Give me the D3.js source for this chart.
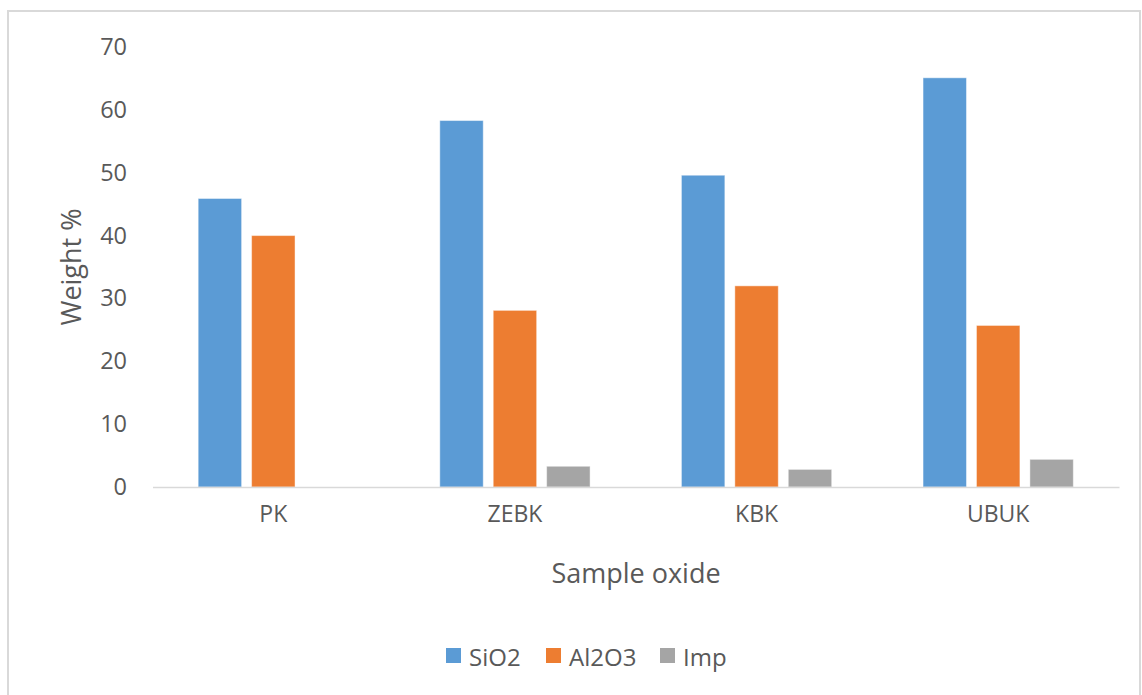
<!DOCTYPE html>
<html>
<head>
<meta charset="utf-8">
<script src="https://cdn.jsdelivr.net/npm/d3@7"></script>
<style>
  html, body { margin: 0; padding: 0; background: #ffffff; }
  svg { display: block; }
  text { font-family: "Open Sans", "Noto Sans", sans-serif; fill: #595959; }
</style>
</head>
<body>
<svg id="chart" width="1142" height="695"></svg>
<script>
// Sample data: oxide composition (weight %) per sample
const categories = ["PK", "ZEBK", "KBK", "UBUK"];
const seriesNames = ["SiO2", "Al2O3", "Imp"];
const sio2 = [45.9, 58.3, 49.6, 65.1];
const al2o3 = [40.0, 28.1, 32.0, 25.7];
const imp = [0, 3.3, 2.8, 4.4];
const yTicks = [0, 10, 20, 30, 40, 50, 60, 70];
const colors = ["#5b9bd5", "#ed7d31", "#a5a5a5"];

const seriesValues = [sio2, al2o3, imp];
const rows = categories.map((c, i) => ({
  category: c,
  values: seriesNames.map((s, j) => ({ series: s, value: seriesValues[j][i] }))
}));

const svg = d3.select("#chart");

// Chart area frame
svg.append("rect")
  .attr("x", 8).attr("y", 11)
  .attr("width", 1132).attr("height", 700)
  .attr("fill", "#ffffff")
  .attr("stroke", "#d9d9d9")
  .attr("stroke-width", 2);

const plot = { left: 152.5, right: 1119, top: 47, bottom: 487 };

const x0 = d3.scaleBand()
  .domain(categories)
  .range([plot.left, plot.right])
  .paddingInner(0).paddingOuter(0);

const x1 = d3.scaleBand()
  .domain(seriesNames)
  .range([0, x0.bandwidth()])
  .paddingInner(0.187)
  .paddingOuter(0.855);

const y = d3.scaleLinear().domain([0, 70]).range([plot.bottom, plot.top]);

const color = d3.scaleOrdinal().domain(seriesNames).range(colors);

// Y axis labels (no axis line, no gridlines)
const yAxis = d3.axisLeft(y).tickValues(yTicks).tickSize(0).tickPadding(0);
const yG = svg.append("g")
  .attr("transform", `translate(127,0)`)
  .call(yAxis);
yG.select(".domain").remove();
yG.selectAll("text")
  .attr("font-size", 23.5)
  .attr("fill", "#595959")
  .style("font-family", "'Open Sans', 'Noto Sans', sans-serif");

// Bars
const groups = svg.append("g")
  .selectAll("g")
  .data(rows)
  .join("g")
  .attr("transform", d => `translate(${x0(d.category)},0)`);

groups.selectAll("rect")
  .data(d => d.values.filter(v => v.value > 0))
  .join("rect")
  .attr("x", d => x1(d.series))
  .attr("y", d => y(d.value))
  .attr("width", x1.bandwidth())
  .attr("height", d => y(0) - y(d.value))
  .attr("fill", d => color(d.series))
  .attr("stroke", "#ffffff")
  .attr("stroke-opacity", 0.45)
  .attr("stroke-width", 1);

// Category axis
const xAxis = d3.axisBottom(x0).tickSize(0).tickPadding(0);
const xG = svg.append("g")
  .attr("transform", `translate(0,${plot.bottom})`)
  .call(xAxis);
xG.select(".domain")
  .attr("stroke", "#d9d9d9")
  .attr("stroke-width", 1.5);
xG.selectAll("text")
  .attr("y", 27)
  .attr("dy", "0.35em")
  .attr("font-size", 23)
  .attr("fill", "#595959")
  .style("font-family", "'Open Sans', 'Noto Sans', sans-serif");

// Axis titles
svg.append("text")
  .attr("x", 636).attr("y", 572)
  .attr("text-anchor", "middle")
  .attr("dominant-baseline", "central")
  .attr("font-size", 27)
  .text("Sample oxide");

svg.append("text")
  .attr("transform", `translate(70,${(plot.top + plot.bottom) / 2}) rotate(-90)`)
  .attr("text-anchor", "middle")
  .attr("dominant-baseline", "central")
  .attr("font-size", 27)
  .text("Weight %");

// Legend
const legendItems = [
  { name: "SiO2", x: 446 },
  { name: "Al2O3", x: 546 },
  { name: "Imp", x: 660 }
];
const legend = svg.append("g");
const li = legend.selectAll("g")
  .data(legendItems)
  .join("g")
  .attr("transform", d => `translate(${d.x},648)`);
li.append("rect")
  .attr("width", 15).attr("height", 15)
  .attr("fill", d => color(d.name));
li.append("text")
  .attr("x", 23).attr("y", 8)
  .attr("dominant-baseline", "central")
  .attr("font-size", 24)
  .text(d => d.name);
</script>
</body>
</html>
